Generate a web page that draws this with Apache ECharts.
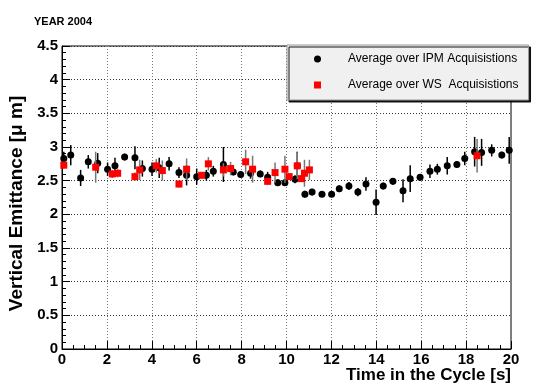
<!DOCTYPE html>
<html>
<head>
<meta charset="utf-8">
<script src="https://cdn.jsdelivr.net/npm/echarts@6/dist/echarts.min.js"></script>
<style>
  html, body { margin: 0; padding: 0; background: #fff; }
  #main { width: 536px; height: 384px; }
</style>
</head>
<body>
<div id="main"></div>
<script>
// IPM points (black)
var ipmTime = [0.08, 0.39, 0.83, 1.17, 1.59, 2.03, 2.36, 2.79, 3.25, 3.58, 4.01, 4.33, 4.77, 5.21, 5.55, 6.0, 6.43, 6.74, 7.19, 7.63, 7.96, 8.4, 8.83, 9.16, 9.61, 9.93, 10.38, 10.48, 10.82, 11.14, 11.58, 12.01, 12.35, 12.78, 13.18, 13.54, 13.99, 14.31, 14.74, 15.19, 15.51, 15.95, 16.39, 16.72, 17.16, 17.59, 17.94, 18.38, 18.69, 19.14, 19.59, 19.92]
var ipmEmit = [2.83, 2.88, 2.54, 2.78, 2.76, 2.67, 2.72, 2.85, 2.84, 2.68, 2.67, 2.69, 2.75, 2.62, 2.58, 2.56, 2.58, 2.64, 2.74, 2.63, 2.59, 2.61, 2.60, 2.55, 2.47, 2.47, 2.52, 2.72, 2.30, 2.33, 2.30, 2.30, 2.38, 2.42, 2.33, 2.45, 2.18, 2.42, 2.49, 2.35, 2.53, 2.55, 2.64, 2.67, 2.72, 2.74, 2.83, 2.93, 2.92, 2.95, 2.88, 2.95]
var ipmErr = [0.10, 0.15, 0.12, 0.10, 0.15, 0.10, 0.12, 0.05, 0.17, 0.12, 0.10, 0.15, 0.10, 0.08, 0.15, 0.12, 0.08, 0.08, 0.26, 0.05, 0.05, 0.08, 0.05, 0.08, 0.05, 0.05, 0.06, 0.21, 0.05, 0.05, 0.04, 0.04, 0.05, 0.06, 0.06, 0.10, 0.19, 0.05, 0.05, 0.17, 0.20, 0.05, 0.10, 0.08, 0.13, 0.05, 0.10, 0.22, 0.20, 0.09, 0.05, 0.20]

// WS points (red)
var wsTime = [0.08, 1.5, 2.24, 2.48, 3.25, 3.46, 4.2, 4.47, 5.21, 5.55, 6.22, 6.52, 7.19, 7.51, 8.18, 8.49, 9.16, 9.49, 9.93, 10.12, 10.48, 10.67, 10.8, 11.02, 18.49]
var wsEmit = [2.73, 2.70, 2.60, 2.61, 2.56, 2.66, 2.72, 2.65, 2.45, 2.67, 2.58, 2.75, 2.66, 2.68, 2.78, 2.67, 2.49, 2.62, 2.67, 2.56, 2.72, 2.53, 2.61, 2.66, 2.87]
var wsErr = [0.05, 0.23, 0.06, 0.06, 0.06, 0.15, 0.10, 0.15, 0.05, 0.16, 0.05, 0.10, 0.10, 0.10, 0.18, 0.20, 0.05, 0.15, 0.20, 0.05, 0.20, 0.05, 0.20, 0.15, 0.25]

function makeData(t, v, e) {
  var out = []
  for (var i = 0; i < t.length; i++) {
    out.push([t[i], v[i], e[i]])
  }
  return out
}

// vertical error bar through the library's scales
function errorBars(color) {
  return function (params, api) {
    var x = api.value(0), y = api.value(1), e = api.value(2)
    var p1 = api.coord([x, y - e])
    var p2 = api.coord([x, y + e])
    return {
      type: 'line',
      shape: { x1: p1[0], y1: p1[1], x2: p2[0], y2: p2[1] },
      style: { stroke: color, lineWidth: 1.5 }
    }
  }
}

var ipmData = makeData(ipmTime, ipmEmit, ipmErr)
var wsData = makeData(wsTime, wsEmit, wsErr)

var myChart = echarts.init(document.getElementById('main'))
var font = 'Liberation Sans, Arial, Helvetica, sans-serif'

var option = {
  animation: false,
  title: {
    text: 'YEAR 2004',
    left: 29,
    top: 11,
    textStyle: { fontFamily: font, fontSize: 11, fontWeight: 'bold', color: '#000' }
  },
  legend: {
    orient: 'vertical',
    left: 287,
    top: 45,
    padding: [8, 10, 9, 27],
    itemWidth: 7,
    itemHeight: 7,
    itemGap: 14,
    backgroundColor: '#f0f0f0',
    borderColor: '#999',
    borderWidth: 1,
    shadowColor: 'rgba(0,0,0,0.9)',
    shadowBlur: 0,
    shadowOffsetX: 2,
    shadowOffsetY: 2,
    textStyle: { fontFamily: font, fontSize: 12, color: '#000', padding: [0, 0, 0, 22] },
    data: ['Average over IPM Acquisistions', 'Average over WS  Acquisistions']
  },
  grid: {
    left: 62,
    right: 25,
    top: 46,
    bottom: 35,
    outerBoundsMode: 'none',
    containLabel: false,
    show: true,
    borderColor: '#000',
    borderWidth: 1
  },
  xAxis: {
    type: 'value',
    min: 0,
    max: 20,
    interval: 2,
    name: 'Time in the Cycle [s]',
    nameLocation: 'end',
    nameGap: 0,
    nameTextStyle: {
      fontFamily: font, fontSize: 17, fontWeight: 'bold', color: '#000',
      align: 'right', verticalAlign: 'top', padding: [18, 0, 0, 0]
    },
    axisLine: { lineStyle: { color: '#000', width: 1 } },
    axisTick: { inside: true, length: 8, lineStyle: { color: '#000' } },
    minorTick: { show: true, splitNumber: 4, length: 4, lineStyle: { color: '#000' } },
    axisLabel: { margin: 3, fontFamily: font, fontSize: 15, fontWeight: 'bold', color: '#000' },
    splitLine: { show: true, lineStyle: { color: '#777', type: [1, 2], width: 1 } }
  },
  yAxis: {
    type: 'value',
    min: 0,
    max: 4.5,
    interval: 0.5,
    name: 'Vertical Emittance [μ m]',
    nameLocation: 'middle',
    nameGap: 36,
    nameTextStyle: { fontFamily: font, fontSize: 19, fontWeight: 'bold', color: '#000', padding: [0, 12, 0, 0] },
    axisLine: { lineStyle: { color: '#000', width: 1 } },
    axisTick: { inside: true, length: 8, lineStyle: { color: '#000' } },
    minorTick: { show: true, splitNumber: 5, length: 4, lineStyle: { color: '#000' } },
    axisLabel: { margin: 4, fontFamily: font, fontSize: 15, fontWeight: 'bold', color: '#000' },
    splitLine: { show: true, lineStyle: { color: '#333', type: [1, 2], width: 1 } }
  },
  series: [
    {
      name: 'ipm-err',
      type: 'custom',
      renderItem: errorBars('#000'),
      encode: { x: 0, y: 1 },
      data: ipmData,
      z: 2
    },
    {
      name: 'Average over IPM Acquisistions',
      type: 'scatter',
      symbol: 'circle',
      symbolSize: 7,
      itemStyle: { color: '#000', opacity: 1 },
      data: ipmData,
      z: 3
    },
    {
      name: 'ws-err',
      type: 'custom',
      renderItem: errorBars('#777'),
      encode: { x: 0, y: 1 },
      data: wsData,
      z: 4
    },
    {
      name: 'Average over WS  Acquisistions',
      type: 'scatter',
      symbol: 'rect',
      symbolSize: 7,
      itemStyle: { color: '#ff0000', opacity: 1 },
      data: wsData,
      z: 5
    }
  ]
}

myChart.setOption(option)
</script>
</body>
</html>
